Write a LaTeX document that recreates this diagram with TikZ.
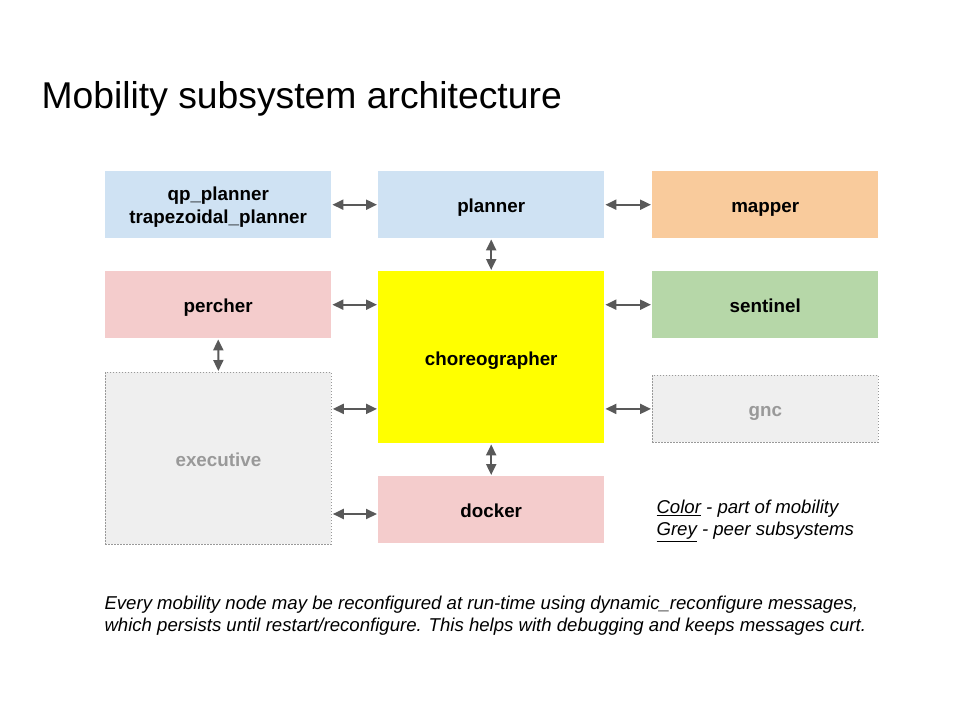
\documentclass[tikz,border=0pt]{standalone}
\usepackage{fontspec}
\setmainfont{Liberation Sans}
\usetikzlibrary{arrows.meta}
\definecolor{mobblue}{HTML}{CFE2F3}
\definecolor{mobpink}{HTML}{F4CCCC}
\definecolor{mobgreen}{HTML}{B6D7A8}
\definecolor{moborange}{HTML}{F9CB9C}
\definecolor{mobyellow}{HTML}{FFFF00}
\definecolor{peergrey}{HTML}{EFEFEF}
\definecolor{peertext}{HTML}{999999}
\definecolor{arrowgrey}{HTML}{595959}
\begin{document}
\begin{tikzpicture}[
    x=1pt, y=-1pt,
    every node/.style={font=\fontsize{18.8}{23}\selectfont\bfseries},
    block/.style={anchor=north west, minimum width=226pt, minimum height=67pt, inner sep=0pt, align=center},
    oneline/.style={text height=17.8pt, text depth=2pt},
    mob/.style={block, oneline, fill=#1},
    peer/.style={block, oneline, fill=peergrey, draw=peertext, line width=0.8pt, dash pattern=on 1.5pt off 1.5pt, text=peertext},
    link/.style={draw=arrowgrey, line width=2pt, {Triangle[length=11pt,width=10pt]}-{Triangle[length=11pt,width=10pt]}, shorten <=1pt, shorten >=1pt},
]
\useasboundingbox (0,0) rectangle (960,720);
% Title
\node[anchor=base west, font=\fontsize{37.3}{44}\selectfont] (title) at (38,108) {Mobility subsystem architecture};
% Top row
\node[block, fill=mobblue, text depth=0pt] (qp) at (105,171) {qp\_planner\\trapezoidal\_planner};
\node[mob=mobblue]   (planner) at (378,171) {planner};
\node[mob=moborange] (mapper)  at (652,171) {mapper};
% Middle
\node[mob=mobpink]   (percher) at (105,271) {percher};
\node[mob=mobyellow, minimum height=172pt] (choreo) at (378,271) {choreographer};
\node[mob=mobgreen]  (sentinel) at (652,271) {sentinel};
% Peer subsystems
\node[peer, minimum height=172pt] (exec) at (105,372) {executive};
\node[peer] (gnc) at (652,375) {gnc};
\node[mob=mobpink]   (docker)  at (378,476) {docker};
% Links
\draw[link] (qp.east) -- (planner.west);
\draw[link] (planner.east) -- (mapper.west);
\draw[link] (planner.south) -- (choreo.north);
\draw[link] (percher.east) -- (choreo.west |- percher.east);
\draw[link] (choreo.east |- sentinel.west) -- (sentinel.west);
\draw[link] (percher.south) -- (exec.north);
\draw[link] (exec.east |- gnc.west) -- (choreo.west |- gnc.west);
\draw[link] (choreo.east |- gnc.west) -- (gnc.west);
\draw[link] (choreo.south) -- (docker.north);
\draw[link] (exec.east |- 0,514) coordinate (dk) -- (docker.west |- dk);
% Legend
\node[anchor=west, align=left, font=\fontsize{18.6}{22}\selectfont\itshape] (legend) at (653,521)
  {\underline{Color} - part of mobility\\\underline{Grey} - peer subsystems};
% Note
\node[anchor=west, align=left, font=\fontsize{18.6}{22}\selectfont\itshape] (note) at (101,616)
  {Every mobility node may be reconfigured at run-time using dynamic\_reconfigure messages,\\which persists until restart/reconfigure. This helps with debugging and keeps messages curt.};
\end{tikzpicture}
\end{document}
